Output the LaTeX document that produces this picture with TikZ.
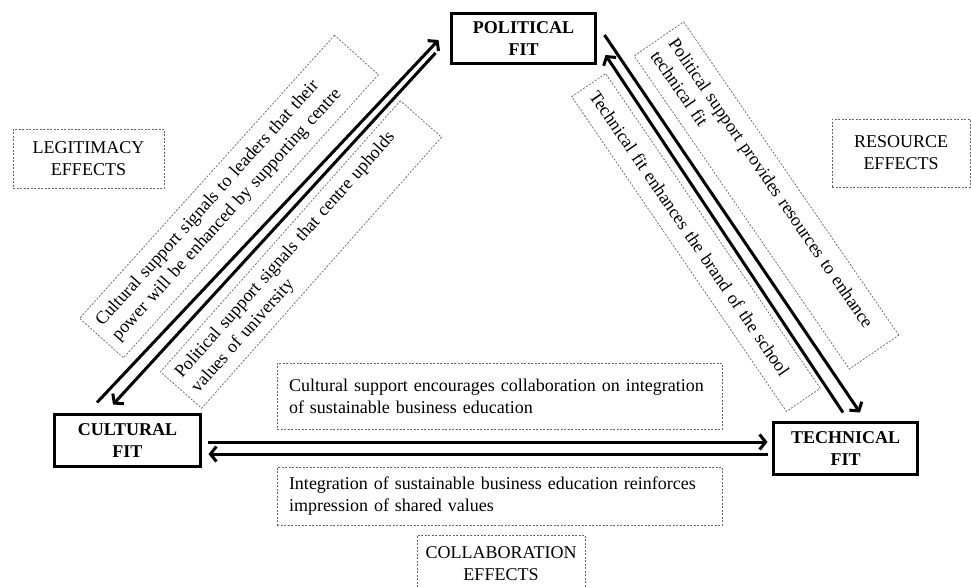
\documentclass[tikz,border=0pt]{standalone}
\usepackage{fontspec}
\setmainfont{Liberation Serif}
\usetikzlibrary{arrows.meta,calc}
\begin{document}
\begin{tikzpicture}[x=1pt,y=-1pt,
  fitbox/.style={draw, line width=2.8pt, align=center, outer sep=0pt, inner sep=0pt,
    font=\fontsize{18}{22}\selectfont\bfseries},
  dline/.style={draw=black!60, line width=0.7pt, dash pattern=on 2pt off 1.5pt},
  dbox/.style={dline, inner sep=0pt, outer sep=0pt, font=\fontsize{18}{22}\selectfont},
  rbox/.style={dbox, align=left, inner xsep=9pt},
  arr/.style={line width=3pt, -{Straight Barb[length=6pt,width=15pt]}}]
\useasboundingbox (0,0) rectangle (971,586);

% main boxes
\node[fitbox, minimum width=144pt, minimum height=50pt] (pol) at (523.5,38.5) {POLITICAL\\FIT};
\node[fitbox, minimum width=146pt, minimum height=52pt] (cul) at (127.5,440.5) {CULTURAL\\FIT};
\node[fitbox, minimum width=144pt, minimum height=52pt] (tec) at (845.5,448.5) {TECHNICAL\\FIT};

% effect boxes
\node[dbox, align=center, minimum width=151pt, minimum height=59pt] (leg) at (88.5,158.5) {LEGITIMACY\\EFFECTS};
\node[dbox, align=center, minimum width=138pt, minimum height=68pt] (res) at (901,153) {RESOURCE\\EFFECTS};
\node[font=\fontsize{18}{22}\selectfont, align=center, inner sep=0pt] (col) at (501,564) {COLLABORATION\\EFFECTS};
\draw[dline] (417,587) |- (585,535) -- (585,587);

% rotated label boxes
\node[rbox, rotate=48, text width=363pt, minimum height=59pt] (t1) at (229,196.5)
  {Cultural support signals to leaders that their\\power will be enhanced by supporting centre};
\node[rbox, rotate=48.5, text width=344pt, minimum height=55pt] (t2) at (301,254.5)
  {Political support signals that centre upholds\\values of university};
\node[rbox, rotate=-55.5, text width=362pt, minimum height=60pt] (t3) at (766.5,195.5)
  {Political support provides resources to enhance\\technical fit};
\node[rbox, rotate=-55.7, text width=363pt, minimum height=41pt] (t4) at (696,242.5)
  {Technical fit enhances the brand of the school};

% horizontal label boxes
\node[rbox, inner xsep=12pt, text width=421pt, minimum height=66pt] (t5) at (499.5,396)
  {Cultural support encourages collaboration on integration\\of sustainable business education};
\node[rbox, inner xsep=12pt, text width=421pt, minimum height=58pt] (t6) at (499.5,496)
  {Integration of sustainable business education reinforces\\impression of shared values};

% arrows
\draw[arr] ($(cul.north)+(-30.5,-12)$) -- ($(pol.west)+(-13,1.5)$);
\draw[arr] ($(pol.west)+(-16,14.5)$) -- ($(cul.north)+(-14.5,-10)$);
\draw[arr] ($(pol.east)+(9,-3.5)$) -- ($(tec.north)+(14.5,-10)$);
\draw[arr] ($(tec.north)+(-2.5,-10)$) -- ($(pol.east)+(10,16.5)$);
\draw[arr] ($(cul.east)+(7,1.5)$) -- ($(tec.west)+(-6,-6.5)$);
\draw[arr] ($(tec.west)+(-6,5.5)$) -- ($(cul.east)+(8,13.5)$);
\end{tikzpicture}
\end{document}
